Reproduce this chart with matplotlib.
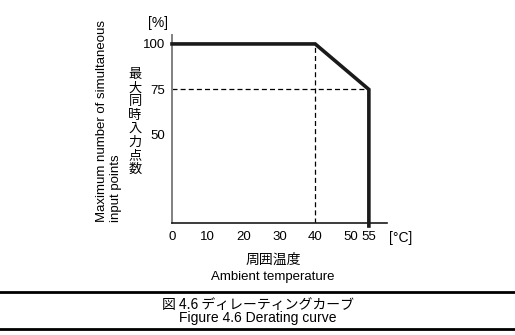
import matplotlib
matplotlib.use("Agg")
import matplotlib.pyplot as plt
from matplotlib.lines import Line2D

plt.rcParams['font.family'] = ['Liberation Sans', 'Noto Sans CJK JP', 'DejaVu Sans']

# Data
temp = [0, 40, 55, 55]
load = [100, 100, 75, 0]
x_ticks = [0, 10, 20, 30, 40, 50, 55]
y_ticks = [50, 75, 100]
x_tick_labels = ["0", "10", "20", "30", "40", "50", "55"]
y_tick_labels = ["50", "75", "100"]

W, H = 515, 335
fig = plt.figure(figsize=(W / 100, H / 100), dpi=100)
ax = fig.add_axes([0.334, 0.334, 0.417, 0.562])
ax.set_xlim(0, 60)
ax.set_ylim(1.6, 105)

ax.plot(temp, load, color='#1a1a1a', lw=2.6, solid_joinstyle='miter', zorder=3, clip_on=False)
ax.plot([40, 40], [1.6, 100], color='black', lw=0.9, ls=(0, (4, 2.5)), zorder=2)
ax.plot([0, 55], [75, 75], color='black', lw=0.9, ls=(0, (4, 2.5)), zorder=2)

for s in ['top', 'right']:
    ax.spines[s].set_visible(False)
ax.spines['left'].set_color('#808080')
ax.spines['left'].set_linewidth(1.4)
ax.spines['bottom'].set_color('#1a1a1a')
ax.spines['bottom'].set_linewidth(1.2)

ax.set_xticks(x_ticks)
ax.set_xticklabels(x_tick_labels)
ax.set_yticks(y_ticks)
ax.set_yticklabels(y_tick_labels)
ax.tick_params(length=0, labelsize=9.5, pad=6)
ax.tick_params(axis='y', pad=5)

fig.text(0.307, 0.93, "[%]", fontsize=10, ha='center', va='center')
fig.text(0.778, 0.29, "[°C]", fontsize=10, ha='center', va='center')

fig.text(135 / W, 1 - 122 / H, "\n".join("最大同時入力点数"), fontsize=9.5, ha='center', va='center',
         family=['Noto Sans CJK JP'], linespacing=1.05)
fig.text(109 / W, 1 - 222 / H, "Maximum number of simultaneous\ninput points", fontsize=9.5,
         rotation=90, ha='center', va='bottom', multialignment='left', linespacing=1.2)

fig.text(0.53, 1 - 260 / H, "周囲温度", fontsize=10, ha='center', va='center', family=['Noto Sans CJK JP'])
fig.text(0.53, 1 - 277 / H, "Ambient temperature", fontsize=9.5, ha='center', va='center')

fig.add_artist(Line2D([0, 1], [1 - 292 / H, 1 - 292 / H], color='black', lw=2, transform=fig.transFigure))
fig.add_artist(Line2D([0, 1], [1 - 329 / H, 1 - 329 / H], color='black', lw=2, transform=fig.transFigure))
fig.text(0.5, 1 - 305 / H, "図 4.6 ディレーティングカーブ", fontsize=10, ha='center', va='center',
         family=['Noto Sans CJK JP', 'Liberation Sans'])
fig.text(0.5, 1 - 318 / H, "Figure 4.6 Derating curve", fontsize=10, ha='center', va='center')

fig.savefig("out.png", dpi=100)
